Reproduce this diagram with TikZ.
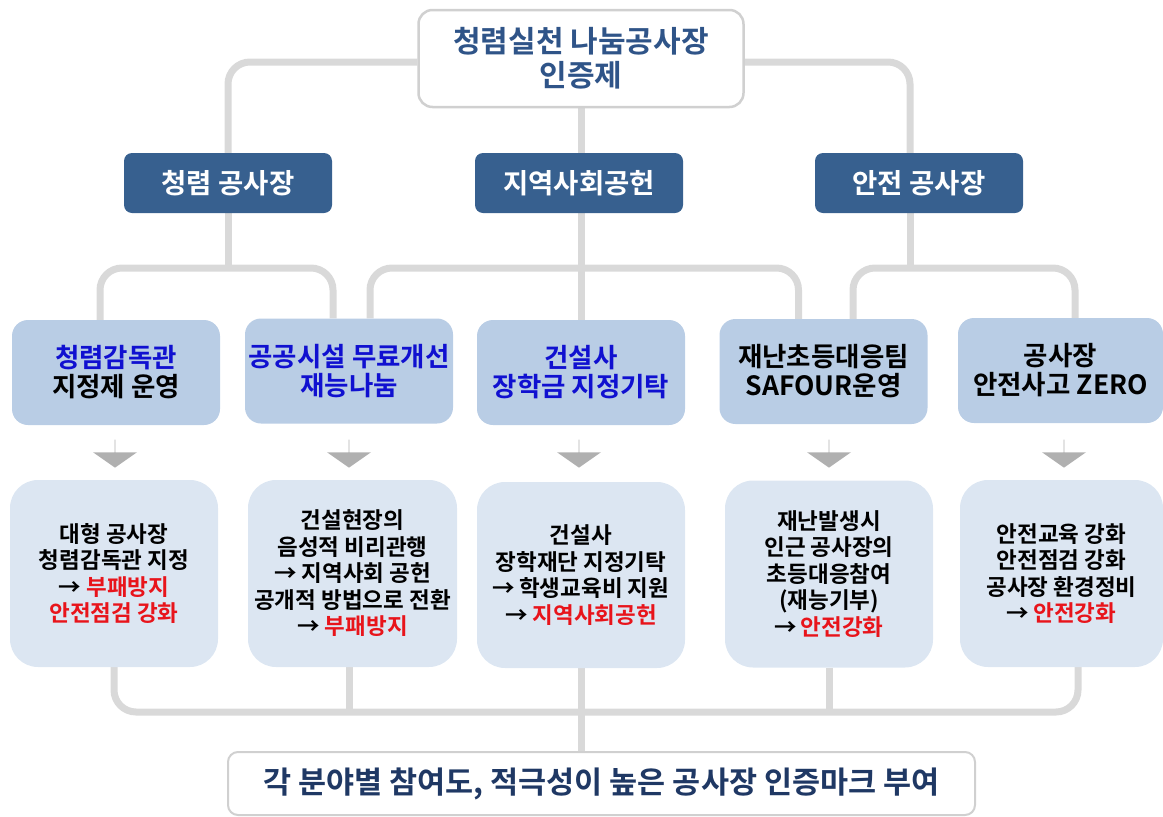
\documentclass[tikz,border=0pt]{standalone}
\usepackage{fontspec}
\newfontfamily\kr{Noto Sans CJK KR}[BoldFont={Noto Sans CJK KR Bold},WordSpace=2.0]
\newfontfamily\krt{Noto Sans CJK KR}[BoldFont={Noto Sans CJK KR Bold}]
\usetikzlibrary{shapes.arrows,backgrounds}
\definecolor{navy}{HTML}{37608F}
\definecolor{titleblue}{HTML}{2F5488}
\definecolor{midblue}{HTML}{B9CDE5}
\definecolor{paleblue}{HTML}{DCE6F2}
\definecolor{conngray}{HTML}{D9D9D9}
\definecolor{arrowgray}{HTML}{B0B0B0}
\definecolor{frame}{HTML}{D0D0D0}
\definecolor{vivblue}{HTML}{1010D0}
\definecolor{vivred}{HTML}{E8141B}
\definecolor{banner}{HTML}{1F3864}
\tikzset{
  topbox/.style={draw=frame, line width=2.5pt, fill=white, rounded corners=14pt,
    minimum width=325pt, minimum height=97pt, inner sep=0pt, align=center,
    text=titleblue, font=\krt\bfseries\fontsize{30}{34}\selectfont},
  catbox/.style={fill=navy, rounded corners=8pt, minimum width=208pt, minimum height=60pt,
    inner sep=0pt, text=white, font=\kr\bfseries\fontsize{27.5}{30}\selectfont},
  itembox/.style={fill=midblue, rounded corners=16pt, minimum width=208pt, minimum height=105pt,
    inner sep=0pt, align=center, font=\kr\bfseries\fontsize{26.5}{29}\selectfont},
  descbox/.style={fill=paleblue, rounded corners=28pt, minimum width=208pt, minimum height=187pt,
    inner sep=0pt, align=center, font=\kr\bfseries\fontsize{22.5}{26.5}\selectfont},
  downarrow/.style={single arrow, fill=arrowgray, draw=none, inner sep=0pt,
    minimum width=44pt, minimum height=28pt, single arrow head extend=9.5pt,
    single arrow tip angle=110, shape border rotate=270},
  bannerbox/.style={draw=frame, line width=2pt, fill=white, rounded corners=10pt,
    minimum width=747pt, minimum height=63pt, inner sep=0pt, text=banner,
    font=\krt\bfseries\fontsize{30.5}{34}\selectfont},
  conn/.style={draw=conngray, line width=7pt, rounded corners=22pt},
}
\newcommand{\bl}[1]{\textcolor{vivblue}{#1}}
\newcommand{\rd}[1]{\textcolor{vivred}{#1}}
\newcommand{\ar}{→\hspace{4pt}}
\begin{document}
\begin{tikzpicture}[x=1pt,y=-1pt]
\useasboundingbox (0,0) rectangle (1163,817);
% top
\node[topbox] (top) at (581,58.5) {청렴실천 나눔공사장\\인증제};
% categories
\node[catbox] (A) at (228,183) {청렴 공사장};
\node[catbox] (C) at (579,183) {지역사회공헌};
\node[catbox] (E) at (919,183) {안전 공사장};
% items
\node[itembox] (B1) at (116,372.5) {\bl{청렴감독관}\\지정제 운영};
\node[itembox] (B2) at (349,371) {\bl{공공시설 무료개선}\\\bl{재능나눔}};
\node[itembox] (B3) at (581,372.5) {\bl{건설사}\\\bl{장학금 지정기탁}};
\node[itembox] (B4) at (823.5,371.5) {재난초등대응팀\\SAFOUR운영};
\node[itembox, minimum width=205pt] (B5) at (1060.5,370.5) {공사장\\안전사고 ZERO};
% arrows
\node[downarrow] (ar1) at (115,453.5) {};
\node[downarrow] (ar2) at (349,453.5) {};
\node[downarrow] (ar3) at (579,453.5) {};
\node[downarrow] (ar4) at (829,453.5) {};
\node[downarrow] (ar5) at (1064,453.5) {};
% descriptions
\node[descbox] (D1) at (114,573.5) {대형 공사장\\청렴감독관 지정\\→ \rd{부패방지}\\\rd{안전점검 강화}};
\node[descbox, minimum width=209pt] (D2) at (352.5,573.5) {건설현장의\\음성적 비리관행\\→ 지역사회 공헌\\공개적 방법으로 전환\\→ \rd{부패방지}};
\node[descbox, minimum height=186pt] (D3) at (581,575) {건설사\\장학재단 지정기탁\\\ar 학생교육비 지원\\→ \rd{지역사회공헌}};
\node[descbox] (D4) at (829,574) {재난발생시\\인근 공사장의\\초등대응참여\\(재능기부)\\\ar\rd{안전강화}};
\node[descbox, minimum width=203pt] (D5) at (1061.5,573.5) {안전교육 강화\\안전점검 강화\\공사장 환경정비\\\ar\rd{안전강화}};
% banner
\node[bannerbox] (ban) at (601.5,783.5) {각 분야별 참여도, 적극성이 높은 공사장 인증마크 부여};
% helper levels
\path (0,62) coordinate (h62) (0,268) coordinate (h268) (0,712) coordinate (h712);
\begin{scope}[on background layer]
\draw[conn] (top.west |- h62) -| (A.north);
\draw[conn] (top.east |- h62) -| ([xshift=-9pt]E.north);
\draw[conn] (top.south) -- (top.south |- C.north);
% level 2 -> 3
\draw[conn] (A.south) -- (A.south |- h268);
\draw[conn] ([xshift=-16pt]B1.north) |- (A.south |- h268) -| ([xshift=-16pt]B2.north);
\draw[conn] (C.south -| B3.north) -- (B3.north);
\draw[conn] ([xshift=21pt]B2.north) |- (B3.north |- h268) -| ([xshift=-25pt]B4.north);
\draw[conn] ([xshift=-9pt]E.south) -- ([xshift=-9pt]E.south |- h268);
\draw[conn] ([xshift=29.5pt]B4.north) |- ([xshift=-9pt]E.south |- h268) -| ([xshift=14.5pt]B5.north);
% bottom
\draw[conn] (D1.south) |- (D3.south |- h712) -| ([xshift=16.5pt]D5.south);
\draw[conn] ([xshift=-3.5pt]D2.south) -- ([xshift=-3.5pt]D2.south |- h712);
\draw[conn] (D3.south) -- (D3.south |- ban.north);
\draw[conn] (D4.south) -- (D4.south |- h712);
\end{scope}
\end{tikzpicture}
\end{document}
